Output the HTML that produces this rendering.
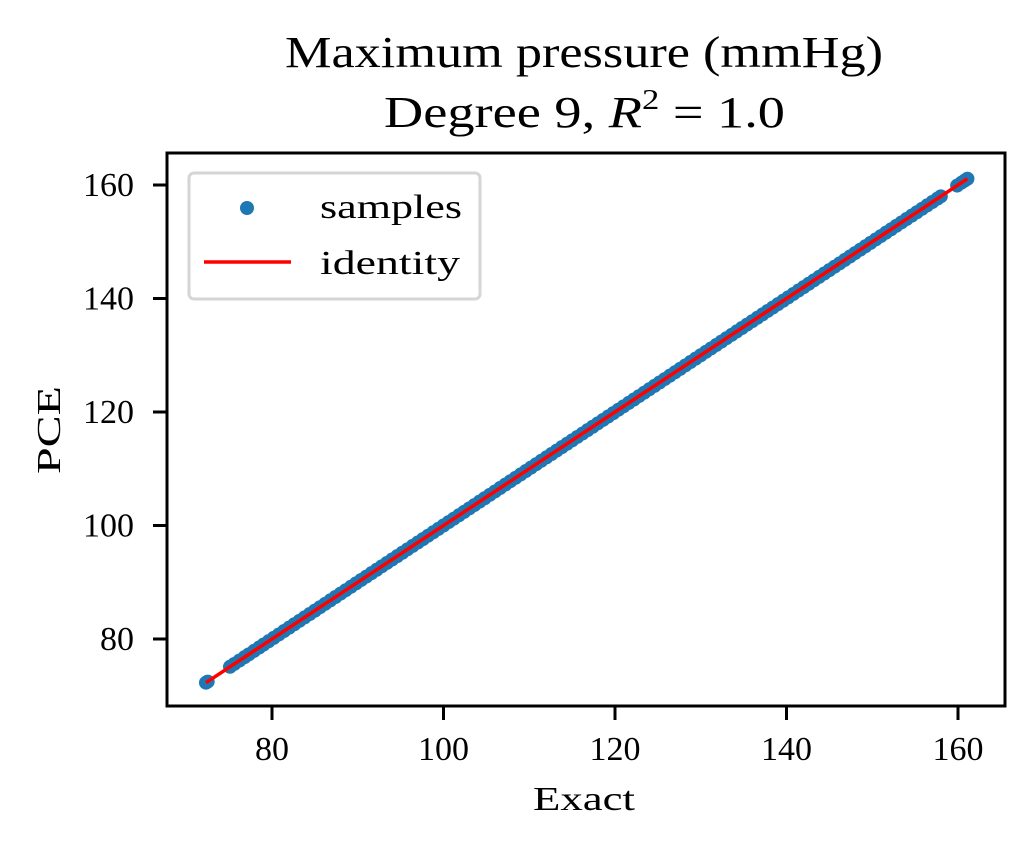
<!DOCTYPE html>
<html><head><meta charset="utf-8"><style>
body{margin:0;background:#fff;}
svg text{font-family:"Liberation Serif","DejaVu Serif",serif;fill:#000;}
</style></head><body>
<svg width="1034" height="850" viewBox="0 0 1034 850">
<text x="285" y="67" font-size="44" textLength="598" lengthAdjust="spacingAndGlyphs">Maximum pressure (mmHg)</text>
<text x="384" y="127" font-size="44" textLength="401" lengthAdjust="spacingAndGlyphs">Degree 9, <tspan font-style="italic">R</tspan><tspan font-size="28" dy="-18">2</tspan><tspan dy="18"> = 1.0</tspan></text>
<g id="marks"></g>
<rect x="167" y="153" width="838" height="553" fill="none" stroke="#000" stroke-width="3"/>
<g id="ticks"></g>
<text x="533" y="810" font-size="34" textLength="102" lengthAdjust="spacingAndGlyphs">Exact</text>
<text x="0" y="0" font-size="34" text-anchor="middle" textLength="88" lengthAdjust="spacingAndGlyphs" transform="translate(60,430) rotate(-90)">PCE</text>
<g>
<rect x="189" y="173" width="291" height="126" rx="5" fill="#fff" fill-opacity="0.8" stroke="#d5d5d5" stroke-width="3"/>
<circle cx="247" cy="208" r="7" fill="#1f77b4"/>
<text x="320" y="218" font-size="34" textLength="142" lengthAdjust="spacingAndGlyphs">samples</text>
<line x1="204" y1="262" x2="291" y2="262" stroke="#ff0000" stroke-width="3.5"/>
<text x="320" y="274" font-size="34" textLength="140" lengthAdjust="spacingAndGlyphs">identity</text>
</g>
</svg>
<script>
const xTicks=[80,100,120,140,160];
const yTicks=[80,100,120,140,160];
const exactVals=[72.3,72.5,75.1,75.6,76.2,76.8,77.3,77.9,78.5,79.0,79.6,80.2,80.8,81.4,82.0,82.6,83.2,83.8,84.4,85.0,85.6,86.2,86.8,87.4,88.0,88.6,89.2,89.8,90.4,91.0,91.6,92.2,92.8,93.4,94.0,94.6,95.2,95.8,96.4,97.0,97.6,98.2,98.8,99.4,100.0,100.6,101.2,101.8,102.4,103.0,103.6,104.2,104.8,105.4,106.0,106.6,107.2,107.8,108.4,109.0,109.6,110.2,110.8,111.4,112.0,112.6,113.2,113.8,114.4,115.0,115.6,116.2,116.8,117.4,118.0,118.6,119.2,119.8,120.4,121.0,121.6,122.2,122.8,123.4,124.0,124.6,125.2,125.8,126.4,127.0,127.6,128.2,128.8,129.4,130.0,130.6,131.2,131.8,132.4,133.0,133.6,134.2,134.8,135.4,136.0,136.6,137.2,137.8,138.4,139.0,139.6,140.2,140.8,141.4,142.0,142.6,143.2,143.8,144.4,145.0,145.6,146.2,146.8,147.4,148.0,148.6,149.2,149.8,150.4,151.0,151.6,152.2,152.8,153.4,154.0,154.6,155.2,155.8,156.4,157.0,157.6,158.0,159.9,160.4,160.8,161.1];
const pceVals=[72.3,72.5,75.1,75.6,76.2,76.8,77.3,77.9,78.5,79.0,79.6,80.2,80.8,81.4,82.0,82.6,83.2,83.8,84.4,85.0,85.6,86.2,86.8,87.4,88.0,88.6,89.2,89.8,90.4,91.0,91.6,92.2,92.8,93.4,94.0,94.6,95.2,95.8,96.4,97.0,97.6,98.2,98.8,99.4,100.0,100.6,101.2,101.8,102.4,103.0,103.6,104.2,104.8,105.4,106.0,106.6,107.2,107.8,108.4,109.0,109.6,110.2,110.8,111.4,112.0,112.6,113.2,113.8,114.4,115.0,115.6,116.2,116.8,117.4,118.0,118.6,119.2,119.8,120.4,121.0,121.6,122.2,122.8,123.4,124.0,124.6,125.2,125.8,126.4,127.0,127.6,128.2,128.8,129.4,130.0,130.6,131.2,131.8,132.4,133.0,133.6,134.2,134.8,135.4,136.0,136.6,137.2,137.8,138.4,139.0,139.6,140.2,140.8,141.4,142.0,142.6,143.2,143.8,144.4,145.0,145.6,146.2,146.8,147.4,148.0,148.6,149.2,149.8,150.4,151.0,151.6,152.2,152.8,153.4,154.0,154.6,155.2,155.8,156.4,157.0,157.6,158.0,159.9,160.4,160.8,161.1];
const identityRange=[72.3,161.1];
const NS='http://www.w3.org/2000/svg';
function sx(v){return 272+(v-80)*8.575;}
function sy(v){return 639-(v-80)*5.675;}
const marks=document.getElementById('marks');
exactVals.forEach((v,i)=>{
 const c=document.createElementNS(NS,'circle');
 c.setAttribute('cx',sx(v));c.setAttribute('cy',sy(pceVals[i]));c.setAttribute('r',7);c.setAttribute('fill','#1f77b4');
 
 
 marks.appendChild(c);
});
const l=document.createElementNS(NS,'line');
l.setAttribute('x1',sx(identityRange[0]));l.setAttribute('y1',sy(identityRange[0]));
l.setAttribute('x2',sx(identityRange[1]));l.setAttribute('y2',sy(identityRange[1]));
l.setAttribute('stroke','#ff0000');l.setAttribute('stroke-width','3.5');


marks.appendChild(l);
const tg=document.getElementById('ticks');
xTicks.forEach(v=>{
 const t=document.createElementNS(NS,'line');
 t.setAttribute('x1',sx(v));t.setAttribute('x2',sx(v));t.setAttribute('y1',706);t.setAttribute('y2',720);t.setAttribute('stroke','#000');t.setAttribute('stroke-width','3');
 
 
 tg.appendChild(t);
 const tx=document.createElementNS(NS,'text');
 tx.setAttribute('x',sx(v));tx.setAttribute('y',760);tx.setAttribute('font-size','34');tx.setAttribute('text-anchor','middle');tx.textContent=v;
 
 
 tg.appendChild(tx);
});
yTicks.forEach(v=>{
 const t=document.createElementNS(NS,'line');
 t.setAttribute('x1',153);t.setAttribute('x2',167);t.setAttribute('y1',sy(v));t.setAttribute('y2',sy(v));t.setAttribute('stroke','#000');t.setAttribute('stroke-width','3');
 
 
 tg.appendChild(t);
 const tx=document.createElementNS(NS,'text');
 tx.setAttribute('x',134);tx.setAttribute('y',sy(v)+11);tx.setAttribute('font-size','34');tx.setAttribute('text-anchor','end');tx.textContent=v;
 
 
 tg.appendChild(tx);
});
</script>
</body></html>
